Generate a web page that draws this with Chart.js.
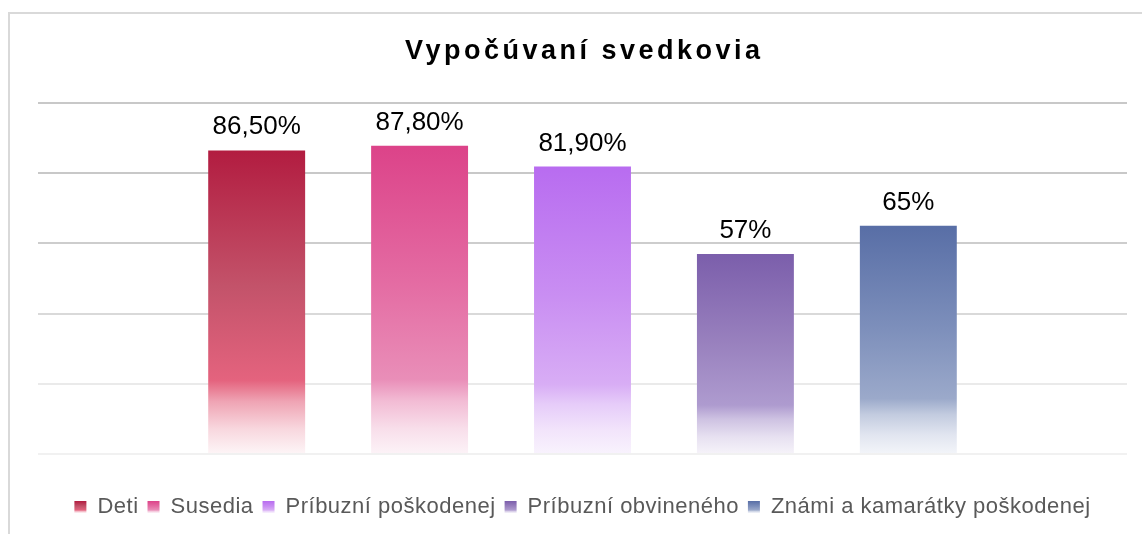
<!DOCTYPE html>
<html>
<head>
<meta charset="utf-8">
<script src="https://cdn.jsdelivr.net/npm/chart.js@4"></script>
<style>
  html, body { margin: 0; padding: 0; background: #fff; overflow: hidden; }
  #frame { position: absolute; left: 8px; top: 12px; width: 1160px; height: 560px; border: 2px solid #d9d9d9; box-sizing: border-box; }
  #wrap { position: absolute; left: 0; top: 0; width: 1142px; height: 534px; }
</style>
</head>
<body>
<div id="frame"></div>
<div id="wrap"><canvas id="chart"></canvas></div>
<script>
// data
const chartTitle = 'Vypočúvaní svedkovia';
const seriesNames = ['Deti', 'Susedia', 'Príbuzní poškodenej', 'Príbuzní obvineného', 'Známi a kamarátky poškodenej'];
const seriesValues = [86.5, 87.8, 81.9, 57, 65];
const valueLabels = ['86,50%', '87,80%', '81,90%', '57%', '65%'];
const yTicks = [0, 20, 40, 60, 80, 100];

// gradient shades per series: top, middle, where the fade starts, bottom
const barShades = [
    ['#b21c40', '#c3536a', '#e4637e', '#fdf4f6'],
    ['#dc4389', '#e46ca3', '#e98eb8', '#fcf2f7'],
    ['#b86cf0', '#c98ef2', '#d8adf5', '#f8f2fd'],
    ['#7b5eab', '#9981be', '#ae9bcf', '#f5f2f9'],
    ['#586ea6', '#7d8fbb', '#9ba9ca', '#f2f4f9']
];

const gridColors = ['#f1f1f1', '#eaeaea', '#d9d9d9', '#cdcdcd', '#c8c8c8', '#c8c8c8'];

const FONT = '"Liberation Sans", Arial, sans-serif';

function mix(a, b, t) {
    const pa = [1, 3, 5].map(i => parseInt(a.substr(i, 2), 16));
    const pb = [1, 3, 5].map(i => parseInt(b.substr(i, 2), 16));
    const c = pa.map((v, i) => Math.round(v + (pb[i] - v) * t));
    return 'rgb(' + c.join(',') + ')';
}

function makeGradient(ctx, shades, top, bottom) {
    const g = ctx.createLinearGradient(0, top, 0, bottom);
    g.addColorStop(0, shades[0]);
    g.addColorStop(0.45, shades[1]);
    g.addColorStop(0.76, shades[2]);
    g.addColorStop(0.83, mix(shades[2], shades[3], 0.45));
    g.addColorStop(0.92, mix(shades[2], shades[3], 0.8));
    g.addColorStop(1, shades[3]);
    return g;
}

// legend text is slightly spaced out, like the original
const spacingPlugin = {
    id: 'legendSpacing',
    beforeLayout(chart) { chart.ctx.letterSpacing = '0.5px'; },
    beforeDraw(chart) { chart.ctx.letterSpacing = '0.5px'; }
};

// paint every bar (and legend box) with its own vertical gradient
const gradientPlugin = {
    id: 'barGradients',
    beforeDraw(chart) {
        const ctx = chart.ctx;
        if (chart.legend && chart.legend.legendItems) {
            chart.legend.legendItems.forEach(function(item, i) {
                const hb = chart.legend.legendHitBoxes[i];
                if (!hb) return;
                const mid = hb.top + hb.height / 2;
                item.fillStyle = makeGradient(ctx, barShades[item.datasetIndex], mid - 6, mid + 6);
            });
        }
    },
    beforeDatasetsDraw(chart) {
        const ctx = chart.ctx;
        chart.data.datasets.forEach(function(ds, i) {
            const bar = chart.getDatasetMeta(i).data[0];
            bar.options.backgroundColor = makeGradient(ctx, barShades[i], bar.y, bar.base);
        });
    }
};

// value labels above the bars
const valueLabelPlugin = {
    id: 'valueLabels',
    afterDatasetsDraw(chart) {
        const ctx = chart.ctx;
        ctx.save();
        ctx.font = '26px ' + FONT;
        ctx.letterSpacing = '0px';
        ctx.fillStyle = '#000';
        ctx.textAlign = 'center';
        ctx.textBaseline = 'alphabetic';
        chart.data.datasets.forEach(function(ds, i) {
            const bar = chart.getDatasetMeta(i).data[0];
            ctx.fillText(valueLabels[i], bar.x, bar.y - 16);
        });
        ctx.restore();
    }
};

// title with spaced letters
const titlePlugin = {
    id: 'spacedTitle',
    afterDraw(c) {
        const ctx = c.ctx;
        ctx.save();
        ctx.font = 'bold 27px ' + FONT;
        ctx.letterSpacing = '3.5px';
        ctx.fillStyle = '#000';
        ctx.textAlign = 'center';
        ctx.textBaseline = 'alphabetic';
        ctx.fillText(chartTitle, (c.chartArea.left + c.chartArea.right) / 2 + 1.75, c.chartArea.top - 44);
        ctx.restore();
    }
};

const datasets = seriesNames.map(function(name, i) {
    return {
        label: name,
        data: [seriesValues[i]],
        backgroundColor: barShades[i][1],
        borderWidth: 0
    };
});

var ctx = document.getElementById('chart').getContext('2d');
var chart = new Chart(ctx, {
    type: 'bar',
    data: {
        labels: [''],
        datasets: datasets
    },
    plugins: [spacingPlugin, gradientPlugin, valueLabelPlugin, titlePlugin],
    options: {
        responsive: true,
        maintainAspectRatio: false,
        animation: false,
        categoryPercentage: 0.748,
        barPercentage: 0.595,
        layout: {
            padding: { left: 38, right: 15, top: 103, bottom: 6 }
        },
        plugins: {
            title: { display: false },
            legend: {
                position: 'bottom',
                labels: {
                    color: '#595959',
                    font: { family: FONT, size: 22 },
                    boxWidth: 12,
                    boxHeight: 12,
                    padding: 9
                }
            },
            tooltip: { enabled: false }
        },
        scales: {
            x: {
                display: true,
                ticks: { display: false },
                grid: { display: false },
                border: { display: false },
                afterFit: function(axis) { axis.height = 33; }
            },
            y: {
                min: 0,
                max: 100,
                afterBuildTicks: function(axis) {
                    axis.ticks = yTicks.map(v => ({ value: v }));
                },
                ticks: { display: false },
                border: { display: false },
                grid: {
                    lineWidth: 2,
                    drawTicks: false,
                    color: function(c) { return gridColors[c.index] || '#c8c8c8'; }
                }
            }
        }
    }
});
</script>
</body>
</html>
